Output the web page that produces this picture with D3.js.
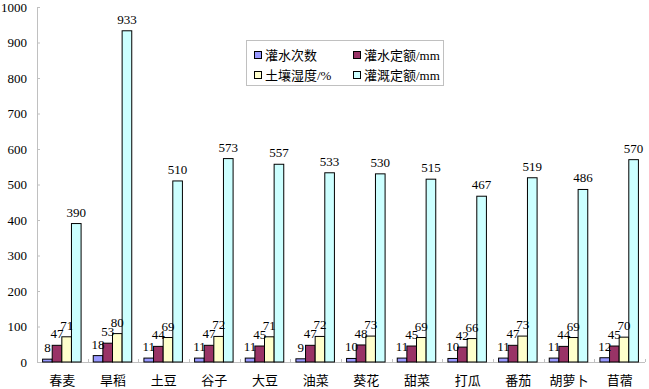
<!DOCTYPE html>
<html>
<head>
<meta charset="utf-8">
<script src="https://cdn.jsdelivr.net/npm/d3@7"></script>
<style>
  body { margin: 0; background: #fff; }
  text { font-family: "Liberation Serif", "Noto Sans CJK SC", serif; }
</style>
</head>
<body>
<div id="chart"></div>
<script>

var crops = ["春麦", "旱稻", "土豆", "谷子", "大豆", "油菜", "葵花", "甜菜", "打瓜", "番茄", "胡萝卜", "苜蓿"];
var seriesNames = ["灌水次数", "灌水定额/mm", "土壤湿度/%", "灌溉定额/mm"];
var irrigCount = [8, 18, 11, 11, 11, 9, 10, 11, 10, 11, 11, 12];
var irrigQuota = [47, 53, 44, 47, 45, 47, 48, 45, 42, 47, 44, 45];
var soilMoisture = [71, 80, 69, 72, 71, 72, 73, 69, 66, 73, 69, 70];
var totalQuota = [390, 933, 510, 573, 557, 533, 530, 515, 467, 519, 486, 570];
var yTicks = [0, 100, 200, 300, 400, 500, 600, 700, 800, 900, 1000];
var colors = ["#9999ff", "#993366", "#ffffcc", "#ccffff"];

function init(){
	var w = 649, h = 389;
	var left = 37, right = 645, top = 7, bottom = 362;

	var series = [irrigCount, irrigQuota, soilMoisture, totalQuota];

	var svg = d3.select("#chart").append("svg")
				.attr("width", w)
				.attr("height", h);

	var x = d3.scaleBand()
				.domain(crops)
				.range([left, right]);

	var bw = x.bandwidth() * 0.19;   // one bar
	var x1 = d3.scaleBand()
				.domain(d3.range(4))
				.range([x.bandwidth() / 2 - bw * 2 - 0.5, x.bandwidth() / 2 + bw * 2 - 0.5]);

	var y = d3.scaleLinear()
				.domain([0, 1000])
				.range([bottom, top]);

	// y axis, ticks pointing inward
	var yAxis = svg.append("g")
		.attr("transform", "translate(" + left + ",0)")
		.call(d3.axisRight(y).tickValues(yTicks).tickSize(3).tickFormat(""));
	yAxis.select(".domain").attr("stroke", "#c0c0c0");
	yAxis.selectAll(".tick line").attr("stroke", "#c0c0c0");

	svg.selectAll(".ylab")
		.data(yTicks)
		.enter()
		.append("text")
		.attr("x", 27)
		.attr("y", function(d){ return y(d) + 4.5; })
		.attr("text-anchor", "end")
		.attr("font-size", 13)
		.attr("fill", "#000")
		.text(function(d){ return d; });

	// x axis line + ticks between categories
	svg.append("line")
		.attr("x1", left).attr("x2", right)
		.attr("y1", bottom + 0.5).attr("y2", bottom + 0.5)
		.attr("stroke", "#c0c0c0");
	svg.selectAll(".xtick")
		.data(crops.slice(1).concat(["end"]))
		.enter()
		.append("line")
		.attr("x1", function(d, i){ return Math.round(left + x.step() * (i + 1)) + 0.5; })
		.attr("x2", function(d, i){ return Math.round(left + x.step() * (i + 1)) + 0.5; })
		.attr("y1", bottom - 3)
		.attr("y2", bottom)
		.attr("stroke", "#c0c0c0");

	svg.selectAll(".xlab")
		.data(crops)
		.enter()
		.append("text")
		.attr("x", function(d){ return x(d) + x.bandwidth() / 2; })
		.attr("y", 385)
		.attr("text-anchor", "middle")
		.attr("font-size", 13)
		.attr("font-family", "Noto Sans CJK SC")
		.attr("fill", "#000")
		.text(function(d){ return d; });

	// bars
	var groups = svg.selectAll(".grp")
		.data(crops)
		.enter()
		.append("g")
		.attr("transform", function(d){ return "translate(" + x(d) + ",0)"; });

	groups.selectAll("rect")
		.data(function(d, i){ return series.map(function(s, k){ return {k: k, v: s[i]}; }); })
		.enter()
		.append("rect")
		.attr("x", function(d){ return x1(d.k); })
		.attr("y", function(d){ return y(d.v); })
		.attr("width", x1.bandwidth())
		.attr("height", function(d){ return bottom - y(d.v); })
		.attr("fill", function(d){ return colors[d.k]; })
		.attr("stroke", "#000")
		.attr("stroke-width", 1);

	groups.selectAll("text")
		.data(function(d, i){ return series.map(function(s, k){ return {k: k, v: s[i]}; }); })
		.enter()
		.append("text")
		.attr("x", function(d){ return x1(d.k) + x1.bandwidth() / 2; })
		.attr("y", function(d){ return y(d.v) - 7; })
		.attr("text-anchor", "middle")
		.attr("font-size", 13)
		.attr("fill", "#000")
		.text(function(d){ return d.v; });

	// legend
	var lg = svg.append("g");
	lg.append("rect")
		.attr("x", 246.5).attr("y", 40.5)
		.attr("width", 197).attr("height", 45)
		.attr("fill", "#fff")
		.attr("stroke", "#c0c0c0");

	var pos = [[254, 55], [353, 55], [254, 75], [353, 75]];
	seriesNames.forEach(function(name, k){
		lg.append("rect")
			.attr("x", pos[k][0] + 0.5).attr("y", pos[k][1] - 3.5)
			.attr("width", 7).attr("height", 7)
			.attr("fill", colors[k])
			.attr("stroke", "#000");
		lg.append("text")
			.attr("x", pos[k][0] + 11)
			.attr("y", pos[k][1] + 4.5)
			.attr("font-size", 13)
			.attr("fill", "#000")
			.text(name);
	});
}

window.onload = init;
</script>
</body>
</html>
